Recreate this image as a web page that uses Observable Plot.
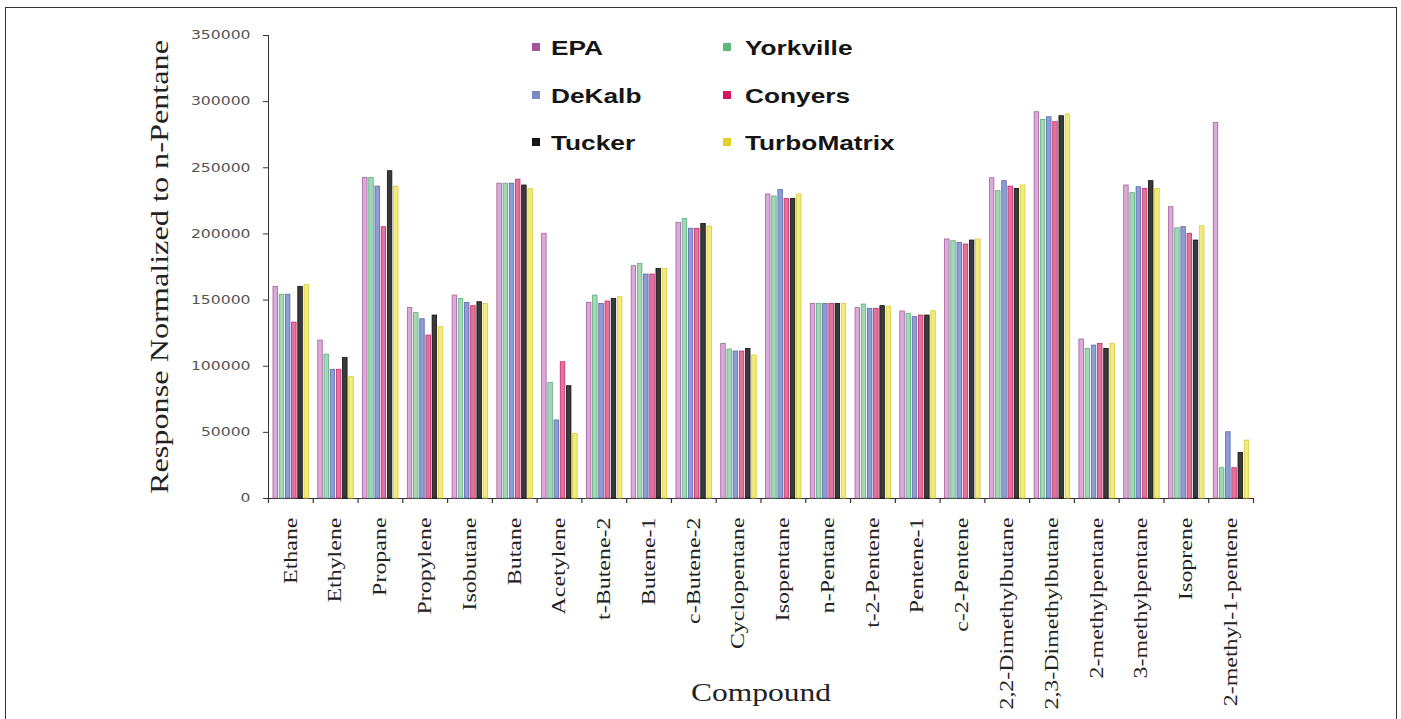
<!DOCTYPE html>
<html>
<head>
<meta charset="utf-8">
<script src="https://cdn.jsdelivr.net/npm/d3@7"></script>
<script src="https://cdn.jsdelivr.net/npm/@observablehq/plot@0.6"></script>
<style>
  html, body { margin: 0; padding: 0; background: #fff; }
  #wrap { position: relative; width: 1401px; height: 719px; overflow: hidden; background: #fff; }
  #frame { position: absolute; left: 5px; top: 7px; width: 1392px; height: 740px; border: 1.5px solid #333; box-sizing: border-box; }
  #chart { position: absolute; left: 0; top: 0; }
  .leg { position: absolute; font-family: "Liberation Sans", Arial, sans-serif; font-weight: bold; font-size: 21px; color: #151515; white-space: nowrap; line-height: 1; transform-origin: left center; transform: translateY(-50%) scaleX(1.25); }
  .sw { position: absolute; width: 8px; height: 8px; transform: translateY(-50%); }
</style>
</head>
<body>
<div id="wrap">
  <div id="frame"></div>
  <div id="chart"></div>
</div>
<script>
// ---------------- data ----------------
const compounds = ["Ethane", "Ethylene", "Propane", "Propylene", "Isobutane", "Butane", "Acetylene",
  "t-Butene-2", "Butene-1", "c-Butene-2", "Cyclopentane", "Isopentane", "n-Pentane", "t-2-Pentene",
  "Pentene-1", "c-2-Pentene", "2,2-Dimethylbutane", "2,3-Dimethylbutane", "2-methylpentane",
  "3-methylpentane", "Isoprene", "2-methyl-1-pentene"];

const seriesNames = ["EPA", "Yorkville", "DeKalb", "Conyers", "Tucker", "TurboMatrix"];

const epa =         [160000, 119400, 242400, 144100, 153400, 238000, 200100, 147900, 175600, 208400, 116900, 229800, 147100, 143900, 141400, 195800, 242100, 292000, 120200, 236600, 220200, 284000];
const yorkville =   [154000, 108800, 242400, 140100, 150900, 238000,  87400, 153400, 177400, 211400, 112600, 228300, 147100, 146600, 139600, 194500, 232300, 286200, 113100, 230800, 204300,  22900];
const dekalb =      [154000,  97300, 235800, 135500, 147900, 238000,  59000, 147100, 169300, 203900, 111100, 233300, 147100, 143400, 137100, 193300, 239900, 288200, 115600, 235300, 205100,  50100];
const conyers =     [133000,  97300, 205100, 123200, 145400, 241000, 103000, 148900, 169300, 203900, 111100, 226500, 147100, 143400, 138300, 192000, 235800, 284500, 116900, 234100, 200100,  22900];
const tucker =      [160000, 106300, 247400, 138300, 148400, 236600,  84900, 150900, 173600, 207600, 113100, 226500, 147100, 145400, 138300, 195000, 234100, 289000, 113100, 239900, 195000,  34500];
const turboMatrix = [161500,  91700, 235800, 129500, 147100, 234100,  48900, 152200, 173600, 205600, 108100, 229800, 147100, 145100, 141600, 195800, 236600, 290300, 116900, 234100, 205800,  43800];

const yTicks = [0, 50000, 100000, 150000, 200000, 250000, 300000, 350000];

const yTitle = "Response Normalized to n-Pentane";
const xTitle = "Compound";

// ---------------- styles ----------------
const seriesValues = [epa, yorkville, dekalb, conyers, tucker, turboMatrix];
const legendColors = ["#a4529e", "#5cb87c", "#7a8ac6", "#d3165e", "#151515", "#e0d42a"];
const barFill =      ["#dcaad8", "#a2d8b6", "#8f9dd6", "#e4729f", "#3a3a3a", "#f2ea7c"];
const barStroke =    ["#a4609e", "#5cae80", "#5a68aa", "#c32d68", "#111111", "#d8cc3c"];

const W = 1401, H = 719, mL = 268, mR = 148, mT = 35, mB = 221;
const bw = (W - mL - mR) / compounds.length;
const barW = 4.5, step = 6.2, lead = 5;

const marks = seriesNames.map((s, i) => {
  const rows = compounds.map((c, j) => ({compound: c, series: s, value: seriesValues[i][j]}));
  const il = lead + i * step;
  return Plot.barY(rows, {
    x: "compound", y: "value",
    fill: barFill[i], stroke: barStroke[i], strokeWidth: 0.8,
    insetLeft: il, insetRight: bw - il - barW
  });
});

// category boundary tick marks (Excel style)
marks.push(Plot.ruleX(compounds, {x: d => d, dx: -bw / 2, y1: 0, y2: 0, insetBottom: -5, stroke: "#333", strokeWidth: 1.2}));
marks.push(Plot.ruleX([compounds[compounds.length - 1]], {x: d => d, dx: bw / 2, y1: 0, y2: 0, insetBottom: -5, stroke: "#333", strokeWidth: 1.2}));

const chart = Plot.plot({
  width: W, height: H,
  marginLeft: mL, marginRight: mR, marginTop: mT, marginBottom: mB,
  style: {background: "transparent", color: "#333", overflow: "visible"},
  x: {domain: compounds, padding: 0, round: false, tickSize: 0, tickRotate: -90, tickPadding: 19,
      label: xTitle, labelAnchor: "center", labelOffset: 202, line: true},
  y: {domain: [0, 350000], ticks: yTicks, tickFormat: d3.format("d"), tickSize: 5, tickPadding: 13,
      label: yTitle, labelAnchor: "center", labelOffset: 118, line: true},
  marks
});

document.getElementById("chart").appendChild(chart);

// text styling
chart.querySelectorAll("text").forEach(t => {
  let s = t.textContent.replace(/[↑↓←→]/g, "").trim();
  if (s !== t.textContent) t.textContent = s;
  const stretch = (f) => {
    const len = t.getComputedTextLength();
    if (len > 0) {
      t.setAttribute("textLength", (len * f).toFixed(1));
      t.setAttribute("lengthAdjust", "spacingAndGlyphs");
    }
  };
  if (compounds.includes(s)) {
    t.style.fontFamily = '"Liberation Serif", "Times New Roman", serif';
    t.style.fontSize = "18px";
    t.style.fill = "#222";
    stretch(1.33);
  } else if (/^\d+$/.test(s)) {
    t.style.fontFamily = '"DejaVu Sans", Verdana, sans-serif';
    t.style.fontSize = "12px";
    t.style.fill = "#555";
    stretch(1.3);
  } else if (s === yTitle || s === xTitle) {
    t.style.fontFamily = '"Liberation Serif", "Times New Roman", serif';
    t.style.fontSize = "25px";
    t.style.fill = "#222";
    stretch(s === yTitle ? 1.29 : 1.26);
  }
});

// legend overlay
const wrap = document.getElementById("wrap");
const legendCols = [[532, 551], [723, 745]];
const legendRows = [47, 95, 142];
seriesNames.forEach((s, i) => {
  const col = legendCols[i % 2], row = legendRows[Math.floor(i / 2)];
  const sw = document.createElement("div");
  sw.className = "sw";
  sw.style.left = col[0] + "px"; sw.style.top = row + "px";
  sw.style.background = legendColors[i];
  wrap.appendChild(sw);
  const lb = document.createElement("div");
  lb.className = "leg";
  lb.style.left = col[1] + "px"; lb.style.top = row + "px";
  lb.textContent = s;
  wrap.appendChild(lb);
});
</script>
</body>
</html>
